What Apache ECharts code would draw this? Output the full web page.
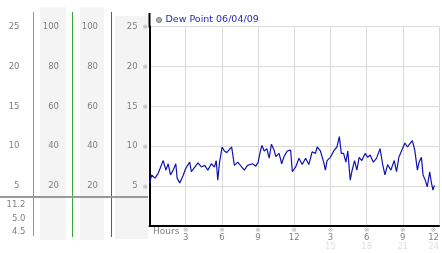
<!DOCTYPE html>
<html><head><meta charset="utf-8">
<script src="https://cdn.jsdelivr.net/npm/echarts@6/dist/echarts.min.js"></script>
<style>html,body{margin:0;padding:0;background:#fff}#c{width:442px;height:253px}</style>
</head><body><div id="c"></div>
<script>
const seriesName = 'Dew Point 06/04/09';
const hours = [0.0,0.18,0.45,0.72,1.14,1.36,1.55,1.74,1.96,2.18,
 2.29,2.51,2.65,2.78,3.0,3.33,3.47,3.66,4.02,4.30,
 4.57,4.84,5.12,5.39,5.53,5.66,5.80,6.02,6.21,6.40,
 6.63,6.81,7.04,7.31,7.59,7.86,8.13,8.54,8.82,9.01,
 9.15,9.32,9.51,9.73,9.92,10.11,10.33,10.47,10.74,10.96,
 11.15,11.42,11.70,11.84,12.12,12.39,12.66,12.94,13.21,13.48,
 13.76,13.90,14.17,14.31,14.44,14.58,14.72,14.99,15.27,15.54,
 15.74,15.90,16.09,16.28,16.44,16.64,16.77,17.00,17.19,17.38,
 17.60,17.88,18.09,18.29,18.56,18.83,19.11,19.32,19.52,19.74,
 20.01,20.29,20.48,20.67,20.89,21.17,21.38,21.58,21.79,21.99,
 22.21,22.35,22.54,22.68,22.86,23.03,23.23,23.36,23.50,23.62];
const dewPoint = [5.3,6.4,6.0,6.6,8.2,7.0,7.8,6.4,7.0,7.8,
 6.0,5.4,5.6,6.3,7.2,8.0,6.8,7.2,7.9,7.4,
 7.6,7.0,7.8,7.4,8.2,5.75,7.9,9.9,9.4,9.2,
 9.6,9.9,7.6,8.0,7.5,7.0,7.6,7.8,7.5,8.0,
 9.1,10.1,9.4,9.7,8.5,10.25,9.5,8.7,9.1,7.8,
 8.7,9.4,9.5,6.8,7.4,8.5,7.7,8.5,7.7,9.3,
 9.1,9.9,9.4,9.5,8.0,7.0,8.2,8.6,9.4,9.9,
 11.2,9.1,9.1,8.0,9.4,5.75,6.8,8.2,7.0,8.6,
 8.2,9.1,8.6,8.9,8.0,8.5,9.7,7.8,6.4,7.7,
 7.0,8.2,6.8,8.6,9.4,10.4,9.9,10.3,10.7,9.5,
 7.0,8.0,8.6,6.4,5.75,4.9,6.8,5.5,4.5,5.1];
const tempTicks = [5,10,15,20,25];
const pctTicks = [20,40,60,80,100];
const xTickValues = [0,3,6,9,12,15,18,21,24];
const xTickLabels = ['Hours','3','6','9','12','3','6','9','12'];
const xTickLabels2 = ['','','','','','15','18','21','24'];
const statLabels = ['11.2','5.0','4.5'];

const FONT = 'DejaVu Sans';
const GRAY = '#808080';
const gL = 149.5, gT = 26.5, gB = 226;

function leftAxis(min, max, interval, ticks, offset) {
  return {
    type: 'value', position: 'left', offset: offset, min: min, max: max, interval: interval,
    axisLine: {show: false}, axisTick: {show: false}, splitLine: {show: false},
    axisLabel: {margin: 0, fontFamily: FONT, fontSize: 8.5, color: GRAY,
      formatter: v => ticks.indexOf(v) >= 0 ? String(v) : ''}
  };
}

const graphic = [
  {type:'rect', z:-10, shape:{x:40,y:7,width:26,height:233}, style:{fill:'#f4f4f4'}},
  {type:'rect', z:-10, shape:{x:80,y:7,width:24,height:233}, style:{fill:'#f4f4f4'}},
  {type:'rect', z:-10, shape:{x:115,y:16,width:33,height:223}, style:{fill:'#f4f4f4'}},
  {type:'line', z:5, shape:{x1:33.5,y1:12,x2:33.5,y2:236}, style:{stroke:'#3ab4e4',lineWidth:1}},
  {type:'line', z:5, shape:{x1:72.5,y1:12,x2:72.5,y2:237}, style:{stroke:'#34a834',lineWidth:1}},
  {type:'line', z:5, shape:{x1:111.5,y1:12,x2:111.5,y2:237}, style:{stroke:'#c83030',lineWidth:1}},
  {type:'line', z:6, shape:{x1:0,y1:197,x2:148,y2:197}, style:{stroke:'#9a9a9a',lineWidth:2}},
  {type:'line', z:6, shape:{x1:gL,y1:13,x2:gL,y2:gT+1}, style:{stroke:'#000',lineWidth:2}}
];
const statY = [204.5, 218.3, 232];
statLabels.forEach((t, i) => graphic.push({type:'text', z:6, x:25.5, y:statY[i],
  style:{text:t, fill:GRAY, font:'8.5px "DejaVu Sans"', textAlign:'right', textVerticalAlign:'middle'}}));

const option = {
  animation: false,
  backgroundColor: '#fff',
  textStyle: {fontFamily: FONT},
  legend: {
    data: [seriesName], left: 156, top: 15, padding: 0,
    icon: 'circle', itemWidth: 5, itemHeight: 5,
    itemStyle: {color: '#b4b4b4', borderColor: '#7a7a7a', borderWidth: 1},
    textStyle: {fontFamily: FONT, fontSize: 9.5, color: '#2a2ab4', padding: [0,0,0,-1]}
  },
  grid: {left: gL, top: gT, right: 2, bottom: 253 - gB, containLabel: false},
  xAxis: {
    type: 'value', min: 0, max: 24, interval: 3,
    axisLine: {show: true, lineStyle: {color: '#000', width: 2}},
    axisTick: {show: false},
    splitLine: {show: true, lineStyle: {color: '#dadada', width: 1}},
    axisLabel: {
      margin: 1.5, alignMinLabel: 'left', alignMaxLabel: 'right',
      formatter: v => {
        const i = xTickValues.indexOf(v);
        if (i < 0) return '';
        if (i === 0) return '{h|' + xTickLabels[0] + '}';
        let s = '{m|※}\n{n|' + xTickLabels[i] + '}';
        if (xTickLabels2[i]) s += '\n{f|' + xTickLabels2[i] + '}';
        return s;
      },
      rich: {
        h: {fontFamily: FONT, fontSize: 9, color: GRAY, lineHeight: 8, padding: [0,0,0,3.5]},
        m: {fontFamily: FONT, fontSize: 6.5, color: '#a0a0a0', lineHeight: 5, align: 'center'},
        n: {fontFamily: FONT, fontSize: 8.5, color: GRAY, lineHeight: 10, align: 'center'},
        f: {fontFamily: FONT, fontSize: 8.5, color: '#e0e0e0', lineHeight: 9, align: 'center'}
      }
    }
  },
  yAxis: [
    {
      type: 'value', position: 'left', min: 0, max: 25, interval: 5,
      axisLine: {show: true, lineStyle: {color: '#000', width: 2}},
      axisTick: {show: false},
      splitLine: {show: true, lineStyle: {color: '#dadada', width: 1}},
      axisLabel: {margin: 1.5,
        formatter: v => tempTicks.indexOf(v) >= 0 ? '{n|' + v + '}{m|※}' : '',
        rich: {
          n: {fontFamily: FONT, fontSize: 8.5, color: GRAY},
          m: {fontFamily: FONT, fontSize: 6.5, color: '#a0a0a0', padding: [0,0,0,5], verticalAlign: 'bottom'}
        }}
    },
    leftAxis(0, 25, 5, tempTicks, gL - 19.5),
    leftAxis(0, 100, 20, pctTicks, gL - 59),
    leftAxis(0, 100, 20, pctTicks, gL - 98)
  ],
  graphic: graphic,
  series: [{
    name: seriesName, type: 'line', xAxisIndex: 0, yAxisIndex: 0,
    data: hours.map((h, i) => [h, dewPoint[i]]),
    showSymbol: false, symbol: 'none',
    lineStyle: {color: '#1212b0', width: 1.2},
    itemStyle: {color: '#1212b0'}
  }]
};
const chart = echarts.init(document.getElementById('c'), null, {renderer: 'canvas'});
chart.setOption(option);
</script>
</body></html>
